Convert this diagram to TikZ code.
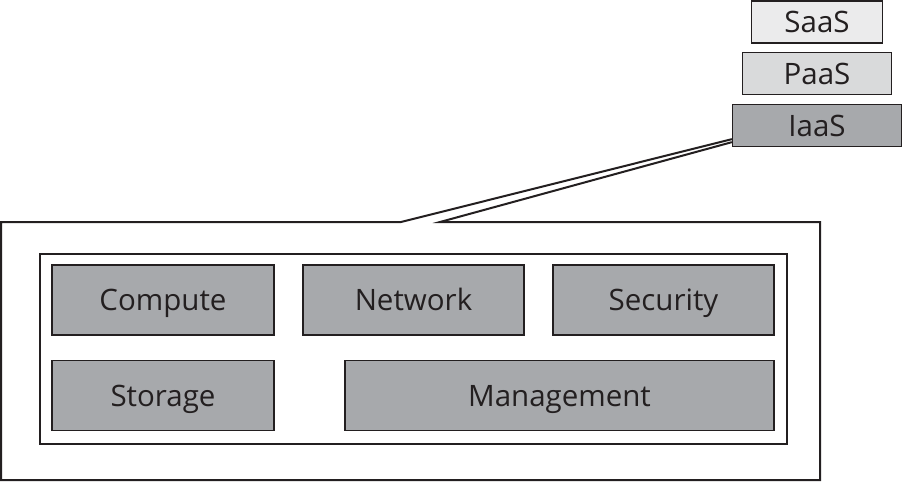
\documentclass[tikz,border=0pt]{standalone}
\usepackage{fontspec}
\setmainfont{Open Sans}
\usetikzlibrary{calc}
\definecolor{boxgray}{HTML}{A7A9AC}
\definecolor{paasgray}{HTML}{D9DADB}
\definecolor{saasgray}{HTML}{EBEBEC}
\definecolor{ink}{HTML}{231F20}
\tikzset{
  lbl/.style={font=\fontsize{29.5}{33}\selectfont, text=ink, text height=21pt, text depth=0pt, inner sep=0pt},
  comp/.style={lbl, draw=ink, line width=1.3pt, fill=boxgray, minimum height=70pt},
  layer/.style={lbl, draw=ink, line width=1.3pt, minimum height=42pt},
  frame/.style={draw=ink, line width=2pt}
}
\begin{document}
\begin{tikzpicture}[x=1pt,y=-1pt]
\useasboundingbox (0,0) rectangle (903,482);
% layers
\node[layer, fill=saasgray, minimum width=131pt] (saas) at (817,22) {SaaS};
\node[layer, fill=paasgray, minimum width=149pt] (paas) at (817,73.5) {PaaS};
\node[layer, fill=boxgray, minimum width=169pt] (iaas) at (817,125.5) {IaaS};
% callout frame
\coordinate (c1) at (401,222);
\coordinate (c2) at (440,222);
\coordinate (tipA) at ($(iaas.south west)+(0,-8)$);
\coordinate (tipB) at ($(iaas.south west)+(0,-5)$);
\draw[frame, line join=miter] (tipA) -- (c1) -- (1,222) -- (1,480) -- (820,480) -- (820,222) -- (c2) -- (tipB);
% inner frame
\node[frame, minimum width=747pt, minimum height=190pt, inner sep=0pt] (inner) at (413,348.5) {};
% components
\node[comp, minimum width=222pt] (compute) at (163,300) {Compute};
\node[comp, minimum width=221pt] (network) at (413.5,300) {Network};
\node[comp, minimum width=221pt] (security) at (663.5,300) {Security};
\node[comp, minimum width=222pt] (storage) at (163,395.5) {Storage};
\node[comp, minimum width=429pt] (management) at (559.5,395.5) {Management};
\end{tikzpicture}
\end{document}
